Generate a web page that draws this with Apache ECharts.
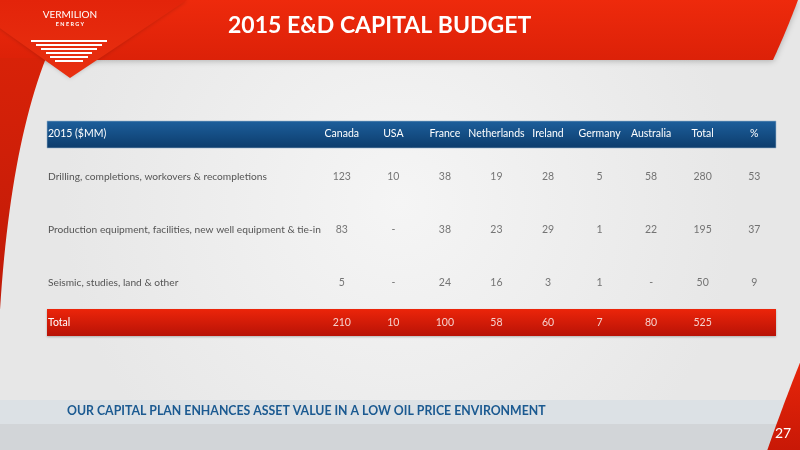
<!DOCTYPE html>
<html><head><meta charset="utf-8">
<script src="https://cdn.jsdelivr.net/npm/echarts@6/dist/echarts.min.js"></script>
<style>html,body{margin:0;padding:0;background:#ededed}#c{width:800px;height:450px}</style>
</head><body><div id="c"></div>
<script>
const columns = ['Canada','USA','France','Netherlands','Ireland','Germany','Australia','Total','%'];
const rowLabels = ['Drilling, completions, workovers & recompletions','Production equipment, facilities, new well equipment & tie-in','Seismic, studies, land & other'];
const drilling = [123,10,38,19,28,5,58,280,53];
const production = [83,'-',38,23,29,1,22,195,37];
const seismic = [5,'-',24,16,3,1,'-',50,9];
const totals = [210,10,100,58,60,7,80,525,''];
const totalLabel = ['Total'];
const headerLabel = '2015 ($MM)';
const titleText = '2015 E&D CAPITAL BUDGET';
const footerText = 'OUR CAPITAL PLAN ENHANCES ASSET VALUE IN A LOW OIL PRICE ENVIRONMENT';
const pageNumber = '27';

const FONT = 'Lato';
const bodyRows = [drilling, production, seismic];
const bodyData = [];
bodyRows.forEach((row, r) => row.forEach((v, c) => bodyData.push({name: String(v), value: [c, r]})));
const totalData = [];
totals.forEach((v, c) => { if (v !== '') totalData.push({name: String(v), value: [c, 0]}); });

const chart = echarts.init(document.getElementById('c'), null, {renderer: 'canvas'});
const lg = (a, b) => ({type: 'linear', x: 0, y: 0, x2: 0, y2: 1, colorStops: [{offset: 0, color: a}, {offset: 1, color: b}]});
// quadratic curve points for decorative shapes
function quad(p0, p1, p2, n) {
  const pts = [];
  for (let i = 0; i <= n; i++) {
    const t = i / n, u = 1 - t;
    pts.push([u * u * p0[0] + 2 * u * t * p1[0] + t * t * p2[0], u * u * p0[1] + 2 * u * t * p1[1] + t * t * p2[1]]);
  }
  return pts;
}
const topBand = [[0, 0]].concat(quad([798, 0], [786, 32], [773, 60], 16)).concat([[0, 60]]);
const leftArc = [[0, 58]].concat(quad([46, 58], [10, 150], [0, 310], 24));
const rightCorner = quad([801, 360], [783, 405], [767, 451], 16).concat([[801, 451]]);

const stripes = [[40,76],[44,66],[48,56],[52,46],[56,38],[60,28]].map(([y, w]) => ({
  type: 'rect', z: -5, shape: {x: 69 - w / 2, y: y, width: w, height: 2}, style: {fill: '#ffffff'}
}));

chart.setOption({
  backgroundColor: {type: 'radial', x: 0.5, y: 0.45, r: 0.75, colorStops: [{offset: 0, color: '#f5f5f5'}, {offset: 1, color: '#e7e7e7'}]},
  animation: false,
  title: [
    {text: titleText, left: 228, top: 14, padding: 0, textStyle: {color: '#ffffff', fontFamily: FONT, fontWeight: 'bold', fontSize: 23}},
    {text: headerLabel, left: 48, top: 128, padding: 0, textStyle: {color: '#ffffff', fontFamily: FONT, fontWeight: 'normal', fontSize: 10.5}},
    {text: footerText, left: 67, top: 405, padding: 0, textStyle: {color: '#1b5a91', fontFamily: FONT, fontWeight: 'bold', fontSize: 12.3}}
  ],
  graphic: [
    {type: 'rect', z: -20, shape: {x: 0, y: 400, width: 800, height: 24}, style: {fill: '#dce1e5'}},
    {type: 'rect', z: -20, shape: {x: 0, y: 424, width: 800, height: 26}, style: {fill: '#d2d5d8'}},
    {type: 'polygon', z: -10, shape: {points: topBand}, style: {fill: lg('#ee2a0c', '#dc2108'), shadowBlur: 6, shadowColor: 'rgba(0,0,0,0.25)', shadowOffsetY: 1}},
    {type: 'polygon', z: -9, shape: {points: leftArc}, style: {fill: lg('#d82208', '#c01a08')}},
    {type: 'polygon', z: -8, shape: {points: [[-40, 0], [187, 0], [70, 78]]}, style: {fill: lg('#e3240a', '#e83010'), shadowBlur: 4, shadowColor: 'rgba(0,0,0,0.2)'}},
    ...stripes,
    {type: 'text', z: -4, style: {text: 'VERMILION', x: 70, y: 15, align: 'center', verticalAlign: 'middle', fill: '#ffffff', font: '10px ' + FONT}},
    {type: 'text', z: -4, style: {text: 'E N E R G Y', x: 70, y: 24, align: 'center', verticalAlign: 'middle', fill: '#ffffff', font: 'bold 5.5px ' + FONT}},
    {type: 'polygon', z: -10, shape: {points: rightCorner}, style: {fill: lg('#e8260a', '#c81806')}},
    {type: 'text', z: 5, style: {text: pageNumber, x: 783, y: 433, align: 'center', verticalAlign: 'middle', fill: '#ffffff', font: '14px ' + FONT}},
    {type: 'rect', z: -3, shape: {x: 47, y: 121, width: 729, height: 27}, style: {fill: lg('#1d5f9c', '#0c3c6c'), stroke: '#9bb7cf', lineWidth: 0.6}},
    {type: 'rect', z: -3, shape: {x: 47, y: 309, width: 729, height: 27}, style: {fill: lg('#ec250a', '#b81206'), shadowBlur: 2, shadowColor: 'rgba(0,0,0,0.25)', shadowOffsetY: 1}}
  ],
  grid: [
    {left: 316, right: 20, top: 150.5, height: 159},
    {left: 316, right: 20, top: 309, height: 27}
  ],
  xAxis: [
    {gridIndex: 0, type: 'category', data: columns, position: 'top', axisLine: {show: false}, axisTick: {show: false},
     axisLabel: {color: '#ffffff', fontFamily: FONT, fontSize: 10.5, margin: 16.5, verticalAlign: 'middle', interval: 0}},
    {gridIndex: 1, type: 'category', data: columns, show: false}
  ],
  yAxis: [
    {gridIndex: 0, type: 'category', data: rowLabels, inverse: true, axisLine: {show: false}, axisTick: {show: false}, splitLine: {show: false},
     axisLabel: {color: '#555555', fontFamily: FONT, fontSize: 10.2, align: 'left', margin: 268}},
    {gridIndex: 1, type: 'category', data: totalLabel, axisLine: {show: false}, axisTick: {show: false}, splitLine: {show: false},
     axisLabel: {color: '#ffffff', fontFamily: FONT, fontSize: 10.5, align: 'left', margin: 268}}
  ],
  series: [
    {type: 'scatter', xAxisIndex: 0, yAxisIndex: 0, symbolSize: 0, data: bodyData, silent: true,
     label: {show: true, position: 'inside', formatter: '{b}', color: '#555555', fontFamily: FONT, fontSize: 10.5}},
    {type: 'scatter', xAxisIndex: 1, yAxisIndex: 1, symbolSize: 0, data: totalData, silent: true,
     label: {show: true, position: 'inside', formatter: '{b}', color: '#ffffff', fontFamily: FONT, fontSize: 10.5}}
  ]
});
</script></body></html>
